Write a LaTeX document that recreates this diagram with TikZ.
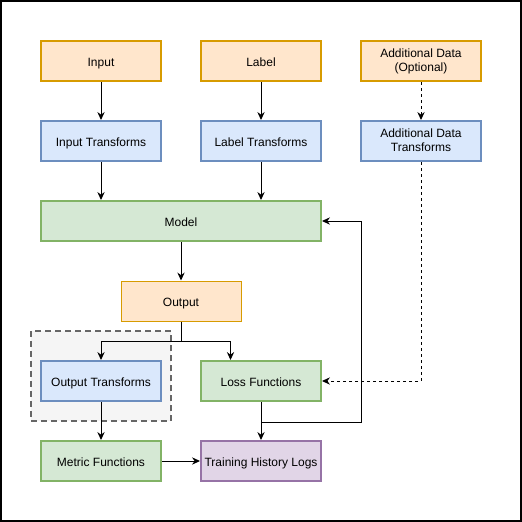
\documentclass[tikz,border=0pt]{standalone}
\usepackage{fontspec}
\setmainfont{Liberation Sans}
\usepackage{tikz}
\usetikzlibrary{arrows.meta, positioning, calc}
\definecolor{DataFill}{HTML}{FFE6CC}
\definecolor{DataDraw}{HTML}{D79B00}
\definecolor{TransFill}{HTML}{DAE8FC}
\definecolor{TransDraw}{HTML}{6C8EBF}
\definecolor{FuncFill}{HTML}{D5E8D4}
\definecolor{FuncDraw}{HTML}{82B366}
\definecolor{LogFill}{HTML}{E1D5E7}
\definecolor{LogDraw}{HTML}{9673A6}
\definecolor{GroupFill}{HTML}{F5F5F5}
\definecolor{GroupDraw}{HTML}{666666}
\newcommand{\boxstrut}{\rule[-2pt]{0pt}{12pt}}
\tikzset{
  basebox/.style={rectangle, minimum width=90pt, minimum height=30pt, inner sep=1pt, font=\fontsize{9pt}{10.5pt}\selectfont, align=center, line width=1.5pt, execute at begin node=\boxstrut, execute at end node=\boxstrut},
  databox/.style={basebox, draw=DataDraw, fill=DataFill},
  transformbox/.style={basebox, draw=TransDraw, fill=TransFill},
  funcbox/.style={basebox, draw=FuncDraw, fill=FuncFill},
  logbox/.style={basebox, draw=LogDraw, fill=LogFill},
  groupbox/.style={rectangle, draw=GroupDraw, fill=GroupFill, line width=1.5pt, dash pattern=on 4.5pt off 3pt},
  arrow/.style={-{Stealth[length=6pt, width=5.5pt, inset=2pt]}, line width=0.75pt, black},
  dashedarrow/.style={arrow, dash pattern=on 2.25pt off 2.25pt}
}
\begin{document}
\begin{tikzpicture}[x=0.75pt, y=-0.75pt]
  \useasboundingbox (0,0) rectangle (522,522);
  \draw[line width=1.5pt] (1,1) rectangle (521,521);

  % group behind the output transforms
  \node[groupbox, minimum width=105pt, minimum height=67.5pt] (group) at (101,376) {};

  % inputs
  \node[databox] (input) at (101,61) {Input};
  \node[databox] (label) at (261,61) {Label};
  \node[databox] (adddata) at (421,61) {Additional Data\\(Optional)};

  % transforms
  \node[transformbox] (intrans) at (101,141) {Input Transforms};
  \node[transformbox] (labtrans) at (261,141) {Label Transforms};
  \node[transformbox] (addtrans) at (421,141) {Additional Data\\Transforms};

  \node[funcbox, minimum width=210pt] (model) at (181,221) {Model};
  \node[databox, line width=0.75pt] (output) at (181,301) {Output};

  \node[transformbox] (outtrans) at (101,381) {Output Transforms};
  \node[funcbox] (loss) at (261,381) {Loss Functions};
  \node[funcbox] (metric) at (101,461) {Metric Functions};
  \node[logbox] (logs) at (261,461) {Training History Logs};

  \draw[arrow] (input) -- (intrans);
  \draw[arrow] (label) -- (labtrans);
  \draw[dashedarrow] (adddata) -- (addtrans);
  \draw[arrow] (intrans) -- (intrans |- model.north);
  \draw[arrow] (labtrans) -- (labtrans |- model.north);
  \draw[arrow] (model.south -| output) -- (output);
  \draw[arrow] (output.south) -- ++(0,20) -| (outtrans.north);
  \draw[arrow] (output.south) -- ++(0,20) -| ($(loss.north west)!0.25!(loss.north east)$);
  \draw[dashedarrow] (addtrans.south) |- (loss.east);
  \draw[arrow] (outtrans) -- (metric);
  \draw[arrow] (metric) -- (logs);
  \draw[arrow] (loss) -- (logs);
  \draw[arrow] (loss.south) -- ++(0,20) -- ++(100,0) |- (model.east);
\end{tikzpicture}
\end{document}
